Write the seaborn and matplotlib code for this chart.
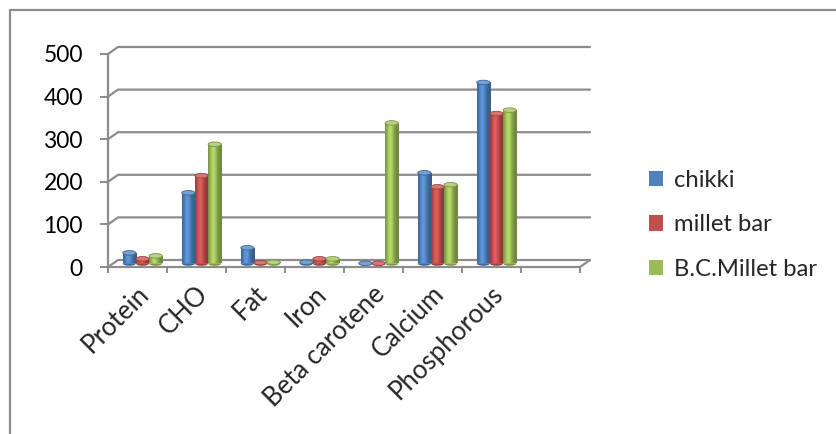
import numpy as np
import pandas as pd
import matplotlib
matplotlib.use("Agg")
import matplotlib.pyplot as plt
import matplotlib.transforms as mtransforms
from matplotlib.patches import Ellipse, Patch
from matplotlib.lines import Line2D
import seaborn as sns

# Nutrient content of the three products
categories = ["Protein", "CHO", "Fat", "Iron", "Beta carotene", "Calcium", "Phosphorous"]
chikki = [25, 166, 37, 3, 0.5, 213, 425]
millet_bar = [11, 206, 2, 11, 0.5, 180, 352]
bc_millet_bar = [18, 280, 3, 11, 330, 185, 360]
series = ["chikki", "millet bar", "B.C.Millet bar"]
colors = ["#4F81BD", "#C0504D", "#9BBB59"]
yticks = [0, 100, 200, 300, 400, 500]

df = pd.DataFrame({"nutrient": categories, series[0]: chikki,
                   series[1]: millet_bar, series[2]: bc_millet_bar})
long = df.melt(id_vars="nutrient", var_name="product", value_name="value")

sns.set_theme(style="white")
plt.rcParams["font.family"] = ["Lato", "DejaVu Sans"]
GRID = "#8C8C8C"
FS = 16.5
FS_CAT = 18.5
FS_LEG = 17.2

W, H = 837, 434
fig = plt.figure(figsize=(W / 100, H / 100), dpi=100)

# front plane of the plot box in pixels
x0, x1, ybot, ytop = 108, 580, 267, 54
ax = fig.add_axes([x0 / W, 1 - ybot / H, (x1 - x0) / W, (ybot - ytop) / H])

nslots = len(categories) + 1
sns.barplot(data=long, x="nutrient", y="value", hue="product", order=categories,
            hue_order=series, palette=colors, width=0.67, saturation=1,
            legend=False, ax=ax, errorbar=None)
ax.set_xlim(-0.5, nslots - 0.5)
ax.set_ylim(0, 500)

px_x = (x1 - x0) / nslots          # pixels per category unit
px_y = (ybot - ytop) / 500.0       # pixels per value unit
# depth offsets (data units) for the back wall and for the bar row
bdx, bdy = 10 / px_x, 7 / px_y
mdx, mdy = 5 / px_x, 3.5 / px_y

for s in ax.spines.values():
    s.set_visible(False)
ax.set_xlabel("")
ax.set_ylabel("")

# back-wall gridlines with their diagonal connection to the front axis
for v in yticks:
    ax.add_line(Line2D([-0.5, -0.5 + bdx, nslots - 0.5 + bdx], [v, v + bdy, v + bdy],
                       color=GRID, lw=1.6, clip_on=False, zorder=1))
# front left axis and floor front edge
ax.add_line(Line2D([-0.5, -0.5], [0, 500], color=GRID, lw=1.6, clip_on=False, zorder=1))
ax.add_line(Line2D([-0.5, nslots - 0.5, nslots - 0.5 + bdx], [0, 0, bdy],
                   color=GRID, lw=1.6, clip_on=False, zorder=1))

# y ticks
ax.set_yticks(yticks)
ax.set_yticklabels([str(v) for v in yticks], fontsize=FS, color="black")
ax.tick_params(axis="y", length=6, width=1.4, color=GRID, pad=12, left=True)

# category ticks between slots, labels at slot centres
ax.set_xticks(np.arange(nslots + 1) - 0.5)
ax.set_xticklabels([])
ax.tick_params(axis="x", which="major", length=4, width=1.4, color=GRID, bottom=True)
ax.set_xticks(np.arange(len(categories)), minor=True)
ax.set_xticklabels(categories, minor=True, rotation=45, ha="right",
                   rotation_mode="anchor", fontsize=FS_CAT)
ax.tick_params(axis="x", which="minor", length=0, pad=6)
shift = mtransforms.ScaledTranslation(-1 / 100, -6 / 100, fig.dpi_scale_trans)
for lab in ax.get_xticklabels(minor=True):
    lab.set_transform(lab.get_transform() + shift)

# turn the flat bars into shaded cylinders
t = np.linspace(0, 1, 64)
shade = 0.72 + 0.45 * np.exp(-((t - 0.38) / 0.28) ** 2)
cap_h = 4.5 / px_y
for p in list(ax.patches):
    bx, bw, bh = p.get_x() + mdx, p.get_width(), p.get_height()
    by = mdy
    p.set_x(bx)
    p.set_y(by)
    rgb = np.array(p.get_facecolor()[:3])
    img = np.clip(rgb[None, :] * shade[:, None], 0, 1)[None, :, :]
    p.set_edgecolor("none")
    p.set_zorder(3)
    im = ax.imshow(img, extent=[bx, bx + bw, by, by + bh], aspect="auto",
                   interpolation="bilinear", zorder=3.1)
    im.set_clip_path(p)
    dark = np.clip(rgb * 0.8, 0, 1)
    ax.add_patch(Ellipse((bx + bw / 2, by), bw, cap_h, facecolor=dark,
                         edgecolor="none", zorder=2.9))
    light = np.clip(rgb * 0.85 + 0.2, 0, 1)
    ax.add_patch(Ellipse((bx + bw / 2, by + bh), bw, cap_h, facecolor=light,
                         edgecolor=dark, lw=0.6, zorder=3.3))
ax.set_xlim(-0.5, nslots - 0.5)
ax.set_ylim(0, 500)

# legend
handles = [Patch(facecolor=c, edgecolor="none") for c in colors]
fig.legend(handles, series, loc="upper left", bbox_to_anchor=(639 / W, 1 - 160 / H),
           frameon=False, fontsize=FS_LEG, handlelength=0.6, handleheight=0.6,
           handletextpad=0.45, labelspacing=1.0, borderaxespad=0)

# chart-area frame
fig.add_artist(Line2D([10 / W, 10 / W, 1.0], [0, 1 - 10 / H, 1 - 10 / H],
                      transform=fig.transFigure, color=GRID, lw=1.6))

fig.savefig("out.png", dpi=100)
